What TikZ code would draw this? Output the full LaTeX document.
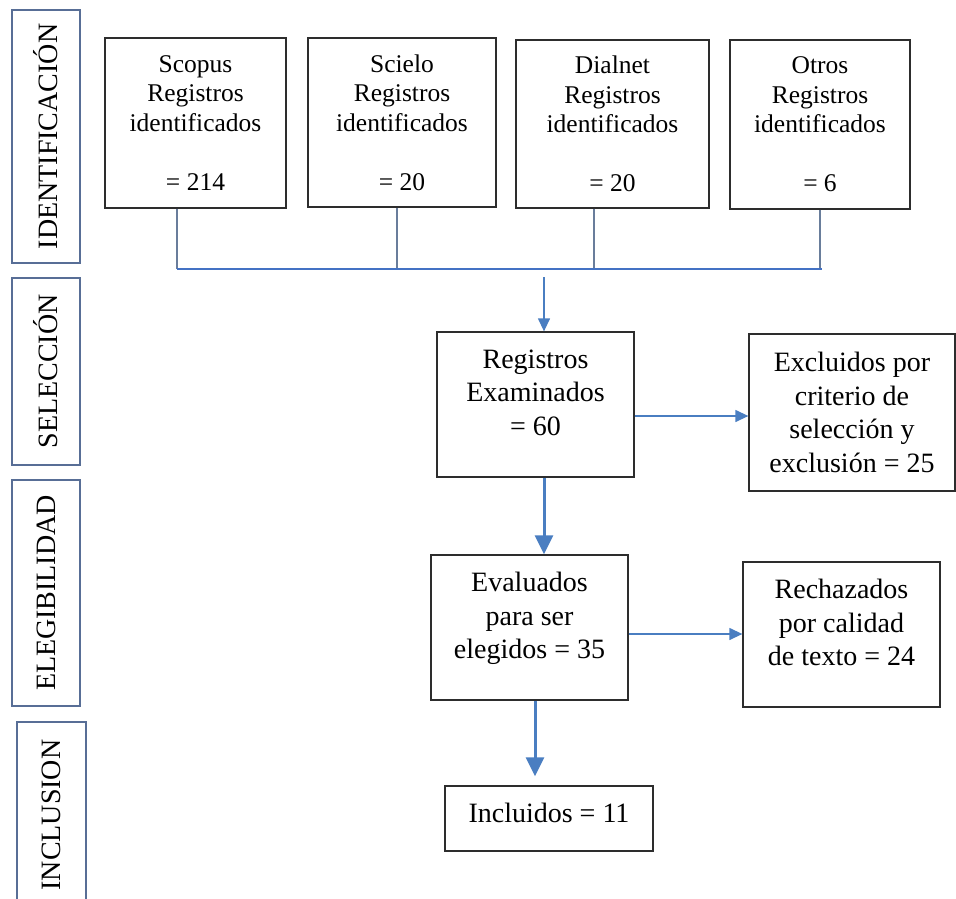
\documentclass[tikz,border=0pt]{standalone}
\usepackage{fontspec}
\setmainfont{Liberation Serif}
\usepackage{xcolor}
\usepackage{tikz}
\usetikzlibrary{arrows.meta,calc}
\definecolor{arrowblue}{RGB}{74,126,193}
\definecolor{busblue}{RGB}{68,114,196}
\definecolor{boxgray}{RGB}{45,45,45}
\definecolor{phaseblue}{RGB}{88,110,150}
\definecolor{dropgray}{RGB}{105,125,155}
\tikzset{
  srcbox/.style={draw=boxgray, line width=1.3pt, align=center, inner sep=0pt, font=\fontsize{25.5}{29.5}\selectfont},
  stepbox/.style={draw=boxgray, line width=1.3pt, align=center, inner sep=0pt, font=\fontsize{28}{33.5}\selectfont},
  phasebox/.style={draw=phaseblue, line width=2.2pt, rotate=90, inner sep=0pt, font=\fontsize{28}{30}\selectfont},
  drop/.style={draw=dropgray, line width=1.2pt},
  bus/.style={draw=busblue, line width=2.6pt},
  thinarrow/.style={-{Triangle[length=13pt,width=12pt]}, arrowblue, line width=1.3pt},
  thickarrow/.style={-{Triangle[length=19pt,width=18pt]}, arrowblue, line width=3pt}
}

\begin{document}
\begin{tikzpicture}[x=1pt, y=-1pt]
  \useasboundingbox (0,0) rectangle (956,899);
  % phases
  \node[phasebox, minimum width=253pt, minimum height=68pt] (ident) at (46,136.5) {IDENTIFICACIÓN};
  \node[phasebox, minimum width=187pt, minimum height=68pt] (selec) at (46,371.5) {SELECCIÓN};
  \node[phasebox, minimum width=226pt, minimum height=68pt] (elegib) at (46,593) {ELEGIBILIDAD};
  \node[phasebox, minimum width=186pt, minimum height=69pt] (inclus) at (51.5,815) {INCLUSION};
  % sources
  \node[srcbox, minimum width=181pt, minimum height=170pt] (scopus) at (195.5,123) {Scopus\\Registros\\identificados\\[29.5pt]= 214};
  \node[srcbox, minimum width=188pt, minimum height=169pt] (scielo) at (402,122.5) {Scielo\\Registros\\identificados\\[29.5pt]= 20};
  \node[srcbox, minimum width=193pt, minimum height=168pt] (dialnet) at (612.5,124) {Dialnet\\Registros\\identificados\\[29.5pt]= 20};
  \node[srcbox, minimum width=180pt, minimum height=169pt] (otros) at (820,124.5) {Otros\\Registros\\identificados\\[29.5pt]= 6};
  % steps
  \node[stepbox, minimum width=197pt, minimum height=145pt, text depth=24pt] (registros) at (535.5,404.5) {Registros\\Examinados\\= 60};
  \node[stepbox, minimum width=206pt, minimum height=157pt] (excluidos) at (852,412.5) {Excluidos por\\criterio de\\selección y\\exclusión = 25};
  \node[stepbox, minimum width=197pt, minimum height=145pt, text depth=24pt] (evaluados) at (529.5,627.5) {Evaluados\\para ser\\elegidos = 35};
  \node[stepbox, minimum width=197pt, minimum height=145pt, text depth=24pt] (rechazados) at (841.5,634.5) {Rechazados\\por calidad\\de texto = 24};
  \node[stepbox, minimum width=208pt, minimum height=65pt, text depth=12pt] (incluidos) at (549,818.5) {Incluidos = 11};
  % merge line
  \coordinate (busL) at (177,269);
  \coordinate (busR) at (822,269);
  \foreach \src/\dx in {scopus/-18.5, scielo/-5, dialnet/-18.5, otros/0} {
    \coordinate (top) at ($(\src.south)+(\dx,0)$);
    \draw[drop] (top) -- (top |- busL);
  }
  \draw[bus] (busL) -- (busR);
  % arrows
  \coordinate (busdrop) at (544,277);
  \draw[thinarrow] (busdrop) -- (busdrop |- registros.north);
  \draw[thickarrow] (registros.south -| busdrop) -- (busdrop |- evaluados.north);
  \coordinate (exc) at ($(registros.east)+(0,11.5)$);
  \draw[thinarrow] (exc) -- (exc -| excluidos.west);
  \coordinate (rej) at ($(evaluados.east)+(0,6.5)$);
  \draw[thinarrow] (rej) -- (rej -| rechazados.west);
  \coordinate (inc) at ($(evaluados.south)+(5.5,0)$);
  \draw[thickarrow, shorten >=9pt] (inc) -- (inc |- incluidos.north);
\end{tikzpicture}
\end{document}
